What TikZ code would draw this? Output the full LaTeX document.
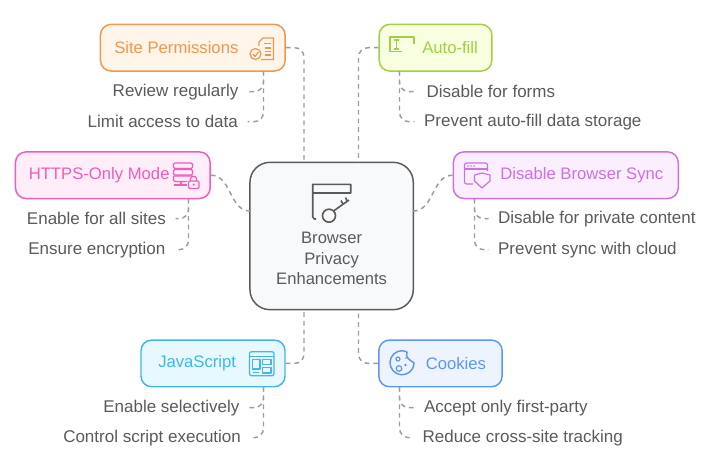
\documentclass[tikz,border=0pt]{standalone}
\usepackage{fontspec}
\setmainfont{Liberation Sans}
\usetikzlibrary{positioning}
\definecolor{orangeline}{HTML}{F0974F}
\definecolor{orangefill}{HTML}{FFF5E8}
\definecolor{greenline}{HTML}{A2CF45}
\definecolor{greenfill}{HTML}{F7FFE0}
\definecolor{pinkline}{HTML}{EE5DBB}
\definecolor{pinkfill}{HTML}{FFEEF9}
\definecolor{purpleline}{HTML}{C972E6}
\definecolor{purplefill}{HTML}{FBEFFF}
\definecolor{cyanline}{HTML}{41B6EA}
\definecolor{cyanfill}{HTML}{E7F8FF}
\definecolor{blueline}{HTML}{5F96EE}
\definecolor{bluefill}{HTML}{EDF4FF}
\definecolor{coreline}{HTML}{5A5A5A}
\definecolor{corefill}{HTML}{F8F9FA}
\definecolor{linktone}{HTML}{9C9C9C}
\definecolor{texttone}{HTML}{5A5A5A}
\begin{document}
\begin{tikzpicture}[x=0.75pt,y=-0.75pt,
    topicbox/.style={draw,line width=1.1pt,rounded corners=8pt,inner sep=0pt},
    topictext/.style={inner sep=0pt,font=\fontsize{12.5}{15}\selectfont},
    leaftext/.style={text=texttone,font=\fontsize{12.75}{15}\selectfont,inner ysep=0pt,inner xsep=7pt,yshift=-0.5pt},
    leafleft/.style={leaftext,anchor=east},
    leafright/.style={leaftext,anchor=west},
    link/.style={draw=linktone,line width=1.1pt,dash pattern=on 3.5pt off 3pt,rounded corners=7pt},
    glyph/.style={line width=0.9pt,line join=round}]
  \useasboundingbox (0,0) rectangle (716,464);

  \node [topicbox,draw=coreline,fill=corefill,rounded corners=15pt,minimum width=122.5pt,minimum height=110.5pt] (corebox) at (331.6,236) {};
  \node [topicbox,draw=orangeline,fill=orangefill,minimum width=138.5pt,minimum height=35pt] (sitebox) at (192.8,47.7) {};
  \node [topicbox,draw=greenline,fill=greenfill,minimum width=84.5pt,minimum height=35pt] (autobox) at (435.5,47.7) {};
  \node [topicbox,draw=pinkline,fill=pinkfill,minimum width=146pt,minimum height=35pt] (httpsbox) at (112.8,175.2) {};
  \node [topicbox,draw=purpleline,fill=purplefill,minimum width=168.7pt,minimum height=35pt] (syncbox) at (565.8,175.2) {};
  \node [topicbox,draw=cyanline,fill=cyanfill,minimum width=108pt,minimum height=35pt] (scriptbox) at (213,363.4) {};
  \node [topicbox,draw=blueline,fill=bluefill,minimum width=92.5pt,minimum height=35pt] (cookiebox) at (440.5,363.4) {};

  \node [topictext,text=orangeline,anchor=west] (sitetext) at (114,47.7) {Site Permissions};
  \node [topictext,text=greenline,anchor=west] (autotext) at (422,47.7) {Auto-fill};
  \node [topictext,text=pinkline,anchor=west] (httpstext) at (28.5,175.2) {HTTPS-Only Mode};
  \node [topictext,text=purpleline,anchor=west] (synctext) at (500,175.2) {Disable Browser Sync};
  \node [topictext,text=cyanline,anchor=west] (scripttext) at (158,363.4) {JavaScript};
  \node [topictext,text=blueline,anchor=west] (cookietext) at (425.5,363.4) {Cookies};

  \node [text=texttone,align=center,inner sep=0pt,font=\fontsize{12.45}{15.4}\selectfont] (coretext) at (331.6,258.5) {Browser\\Privacy\\Enhancements};

  \node [leafleft] (reviewleaf) at (248,91) {Review regularly};
  \node [leafleft] (limitleaf) at (247.5,121) {Limit access to data};
  \node [leafright] (formsleaf) at (417,91) {Disable for forms};
  \node [leafright] (storeleaf) at (414.5,121) {Prevent auto-fill data storage};
  \node [leafleft] (enableleaf) at (175.5,218) {Enable for all sites};
  \node [leafleft] (ensureleaf) at (175,249) {Ensure encryption};
  \node [leafright] (privateleaf) at (488.5,218) {Disable for private content};
  \node [leafright] (cloudleaf) at (488.5,249) {Prevent sync with cloud};
  \node [leafleft] (selectleaf) at (249,407) {Enable selectively};
  \node [leafleft] (controlleaf) at (250.5,437) {Control script execution};
  \node [leafright] (acceptleaf) at (414.5,407) {Accept only first-party};
  \node [leafright] (reduceleaf) at (413,437) {Reduce cross-site tracking};

  \coordinate (coretopleft) at (304,162.3);
  \coordinate (coretopright) at (358.5,162.3);
  \coordinate (corebottomleft) at (304,310);
  \coordinate (corebottomright) at (358.5,310);
  \coordinate (coreleft) at (250,211);
  \coordinate (coreright) at (413.3,211);
  \coordinate (sitefoot) at (263.5,71);
  \coordinate (autofoot) at (399.5,71);
  \coordinate (httpsfoot) at (188.5,198.7);
  \coordinate (syncfoot) at (474.5,198.7);
  \coordinate (scriptfoot) at (263.5,387);
  \coordinate (cookiefoot) at (399.5,387);

  \draw [link] (sitebox.east) -| (coretopleft);
  \draw [link] (autobox.west) -| (coretopright);
  \draw [link] (scriptbox.east) -| (corebottomleft);
  \draw [link] (cookiebox.west) -| (corebottomright);
  \draw [link] (httpsbox.east) to [out=0,in=180] (coreleft);
  \draw [link] (syncbox.west) to [out=180,in=0] (coreright);
  \draw [link] (sitefoot) |- (reviewleaf.east);
  \draw [link] (sitefoot) |- (limitleaf.east);
  \draw [link] (autofoot) |- (formsleaf.west);
  \draw [link] (autofoot) |- (storeleaf.west);
  \draw [link] (httpsfoot) |- (enableleaf.east);
  \draw [link] (httpsfoot) |- (ensureleaf.east);
  \draw [link] (syncfoot) |- (privateleaf.west);
  \draw [link] (syncfoot) |- (cloudleaf.west);
  \draw [link] (scriptfoot) |- (selectleaf.east);
  \draw [link] (scriptfoot) |- (controlleaf.east);
  \draw [link] (cookiefoot) |- (acceptleaf.west);
  \draw [link] (cookiefoot) |- (reduceleaf.west);

  \draw [glyph,coreline,line width=1.2pt] (316,219) -- (314.5,219) -- (312.7,217) -- (312.7,184.3) -- (350.7,184.3) -- (350.7,193) -- (312.7,193);
  \draw [glyph,coreline,line width=1.2pt] (329,215.7) circle (6.5);
  \draw [glyph,coreline,line width=1.2pt] (333.5,211) -- (349,200) (343,204) -- (341,200.5) (347,201) -- (345.5,197.5);

  \draw [glyph,orangeline] (259,46) -- (259,42) -- (263,38) -- (273.5,38) -- (273.5,59.5) -- (261,59.5);
  \draw [glyph,orangeline] (255.5,54) circle (5.5);
  \draw [glyph,orangeline] (253,54) -- (255,56.5) -- (258.5,52);
  \draw [glyph,orangeline] (264,43.5) -- (270.5,43.5) (265,48) -- (271,48) (265,51.5) -- (271,51.5) (265,55) -- (271,55);

  \draw [glyph,greenline] (414,44) -- (414,37) -- (390,37) -- (390,51.7) -- (402,51.7);
  \draw [glyph,greenline] (394,40) -- (399,40) (396.5,40) -- (396.5,49) (394,49) -- (399,49);

  \draw [glyph,pinkline,rounded corners=1pt] (173.5,163) rectangle (192.5,168.5);
  \draw [glyph,pinkline,rounded corners=1pt] (173.5,169.5) rectangle (192.5,175);
  \draw [glyph,pinkline,rounded corners=1pt] (173.5,176) -- (173.5,181.5) -- (187,181.5) (192.5,176) -- (173.5,176);
  \draw [glyph,pinkline] (173.5,185) -- (187,185) (181,181.5) -- (181,185);
  \draw [glyph,pinkline,rounded corners=1pt] (188.5,181) rectangle (199,188.5);
  \draw [glyph,pinkline] (190.5,181) -- (190.5,178.5) -- (192,176.5) -- (195,176.5) -- (196.5,178.5) -- (196.5,181);
  \fill [pinkline] (193.7,184.7) circle (1.2);

  \draw [glyph,purpleline,rounded corners=1.5pt] (473,184) -- (464.5,184) -- (464.5,163) -- (487.5,163) -- (487.5,171);
  \draw [glyph,purpleline] (464.5,169) -- (487.5,169);
  \draw [glyph,purpleline] (474.5,175) -- (482,173) -- (490,175) -- (490,181) -- (482,188) -- (474.5,181) -- cycle;
  \fill [purpleline] (468,166) circle (0.8) (471,166) circle (0.8) (474,166) circle (0.8);

  \draw [glyph,cyanline,rounded corners=1.5pt] (249.5,351.7) rectangle (274,375.7);
  \draw [glyph,cyanline] (249.5,356.5) -- (274,356.5);
  \draw [glyph,cyanline] (252.5,359.5) rectangle (260,369);
  \draw [glyph,cyanline] (262.5,359.5) rectangle (271,364.5);
  \draw [glyph,cyanline] (262.5,367.5) rectangle (271,373);
  \draw [glyph,cyanline] (253,372.5) -- (259,372.5);

  \draw [glyph,blueline,line width=1.1pt] (402,362.7) ++(-65:12) arc [start angle=-65,end angle=-360,radius=12] .. controls (409,360) and (405,357) .. (407.1,351.8);
  \draw [glyph,blueline] (398,359) circle (2) (399,368.5) circle (2.8);
  \fill [blueline] (405.5,365) circle (1.3) (406,358) circle (0.9);

\end{tikzpicture}
\end{document}
